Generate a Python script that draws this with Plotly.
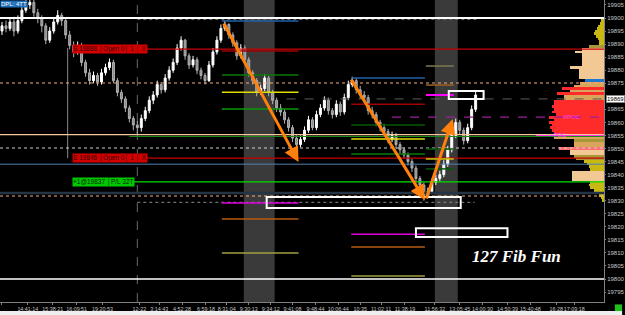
import plotly.graph_objects as go

# ---------------- data ----------------
closes = [
    19897, 19896, 19898.5, 19895, 19899, 19903, 19905, 19906, 19902, 19900,
    19897, 19891.5, 19895, 19898.5, 19901, 19899, 19893.5, 19889.5, 19887, 19889.5,
    19883, 19879, 19876, 19878, 19875.5, 19879, 19881, 19883, 19876, 19871.5,
    19869, 19865.5, 19861.5, 19859, 19858, 19861.5, 19864.5, 19868.5, 19870.5, 19874.5,
    19872.5, 19877, 19880, 19883, 19888.5, 19891.5, 19885.5, 19882, 19884, 19880,
    19878, 19876, 19882, 19887, 19891.5, 19896, 19897.5, 19893.5, 19890.5, 19885.5,
    19888.5, 19884, 19879, 19876, 19871.5, 19873, 19877, 19871.5, 19868.5, 19865.5,
    19864, 19861, 19858, 19854, 19851.5, 19853.5, 19857, 19861, 19858, 19863,
    19865.5, 19868.5, 19864.5, 19863, 19867, 19864, 19869.5, 19874.5, 19876, 19872.5,
    19870.5, 19869.5, 19864.5, 19863, 19860, 19858, 19856.5, 19853.5, 19855, 19851.5,
    19849.5, 19847.5, 19845, 19842.5, 19838.5, 19836, 19832, 19833.5, 19837, 19838.5,
    19840, 19844, 19849.5, 19855, 19860, 19857, 19853, 19858, 19865, 19870.5,
]
highs = [
    19898.5, 19899, 19900, 19900.5, 19901, 19905, 19907, 19908, 19907, 19903.5,
    19901, 19898, 19896.5, 19900, 19903, 19902, 19900, 19895, 19891, 19891,
    19890.5, 19884, 19880.5, 19879.5, 19879, 19880.5, 19882.5, 19884.5, 19884, 19877,
    19872.5, 19870, 19866.5, 19862.5, 19860.5, 19863, 19866, 19870, 19872, 19876,
    19875.5, 19878.5, 19881.5, 19884.5, 19890, 19893, 19892, 19886.5, 19885.5, 19885,
    19881, 19879, 19883.5, 19888.5, 19893, 19897.5, 19899, 19898, 19894.5, 19891.5,
    19890, 19889.5, 19885, 19880, 19877, 19874.5, 19878.5, 19878, 19872.5, 19869.5,
    19867, 19865, 19862, 19859, 19855, 19855, 19858.5, 19862.5, 19862, 19864.5,
    19867, 19870, 19869.5, 19865.5, 19868.5, 19868, 19871, 19876, 19877.5, 19877,
    19874, 19872, 19870.5, 19866, 19864, 19861, 19859.5, 19857.5, 19856.5, 19856,
    19852.5, 19850.5, 19848.5, 19846, 19843.5, 19839.5, 19837, 19835, 19838.5, 19840,
    19841.5, 19845.5, 19851, 19856.5, 19861.5, 19861, 19858, 19859.5, 19866.5, 19872,
]
lows = [
    19893.5, 19894.5, 19895, 19893, 19894, 19898, 19902, 19903.5, 19900.5, 19898,
    19894.5, 19890, 19890.5, 19894, 19897.5, 19897, 19892, 19888, 19885, 19886,
    19881.5, 19877.5, 19874.5, 19875, 19874, 19874.5, 19878, 19880, 19875, 19870,
    19867.5, 19864, 19860, 19857, 19855.5, 19856.5, 19860.5, 19863.5, 19867, 19869.5,
    19871, 19871.5, 19876, 19879, 19882, 19887.5, 19884, 19880.5, 19881, 19878.5,
    19876.5, 19874.5, 19875.5, 19881, 19886, 19890.5, 19895, 19892, 19889, 19884,
    19884.5, 19882.5, 19877.5, 19874.5, 19870, 19870.5, 19872, 19870, 19867, 19864,
    19862.5, 19859.5, 19856.5, 19852.5, 19849.5, 19850.5, 19852.5, 19856, 19857, 19857,
    19862, 19864.5, 19863, 19861.5, 19862, 19862.5, 19863, 19868.5, 19873.5, 19871,
    19869, 19868, 19863, 19861.5, 19858.5, 19856.5, 19855, 19852, 19852.5, 19850,
    19848, 19846, 19843.5, 19841, 19837, 19834.5, 19830, 19831, 19832.5, 19836,
    19837.5, 19839, 19843, 19848.5, 19854, 19855.5, 19851.5, 19852, 19857, 19864,
]
first_open = 19895
opens = [first_open] + closes[:-1]
bar_idx = list(range(len(closes)))

tick_pos = [0, 6.5, 12.75, 18.75, 25.25, 34.5, 39.5, 45.25, 51.25, 56.5, 62, 67.5, 73,
            78.75, 84.5, 90, 95.25, 101.25, 108.75, 115, 120.75, 127, 132.75, 139.25, 143.75]
tick_text = ["08:00", "14:41:14", "15:38:21", "16:09:51", "19:20:53", "12-22", "3:14:43",
             "4:52:28", "6:59:18", "8:31:04", "9:30:13", "9:34:12", "9:41:08", "9:48:44",
             "10:06:44", "10:35", "11:02:11", "11:38:19", "11:56:32", "13:05:45", "14:00:30",
             "14:50:39", "15:40:48", "16:28", "17:09:18"]
price_ticks = [19795, 19800, 19805, 19810, 19815, 19820, 19825, 19830, 19835, 19840, 19845,
               19850, 19855, 19860, 19865, 19875, 19880, 19885, 19890, 19895, 19900, 19905]
last_price = 19869

# volume profile (price level -> volume width, zone)
vp_levels = list(range(19899, 19829, -1))
vp_volume = [3, 4, 6, 7, 9, 10, 8, 6, 5, 5,
             15, 22, 29, 22, 22, 22, 22, 22, 34, 25,
             25, 25, 25, 19, 24, 30, 42, 34, 47, 40,
             40, 50, 50, 52, 50, 52, 48, 55, 50, 55,
             52, 54, 52, 50, 68, 50, 30, 30, 30, 45,
             34, 34, 30, 28, 20, 17, 15, 14, 32, 32,
             32, 32, 14, 15, 14, 10, 7, 5, 3, 2]
vp_zone = list("YYYYYYYYYYOPPPPPPPPPPPPBTTRTRTTRRRRRRRRRRRRRMTOTTKPPOOYYYYPPPPYYYYYYYY")

# fib level sets
fib1_levels = [19898.9, 19887.4, 19878.2, 19871.6, 19865.1, 19829.1, 19823.0, 19810.0]
fib2_levels = [19877.0, 19867.0, 19859.0, 19853.6, 19847.9, 19817.2, 19812.3, 19801.2]
fib3_levels = [19881.6, 19874.3, 19870.5, 19849.8, 19846.0, 19842.2]

# ---------------- styling ----------------
zone_colors = {"Y": "#c8b814", "O": "#a8983a", "P": "#f2c894", "B": "#1e78d0",
               "T": "#d9a55a", "R": "#ff2b2b", "M": "#ff00ff", "K": "#ff7070"}
fib_colors_1 = ["#2060a8", "#a00000", "#0a7a0a", "#e0e000", "#0a9a0a", "#e000e0", "#b85a10", "#a0a040"]
fib_colors_2 = ["#2060a8", "#a00000", "#045a04", "#e0e000", "#0a7a0a", "#e000e0", "#b85a10", "#a0a040"]
fib_colors_3 = ["#807850", "#a06020", "#ff00ff", "#045a04", "#c8c800", "#045a04"]

fig = go.Figure()

fig.add_trace(go.Candlestick(
    x=bar_idx, open=opens, high=highs, low=lows, close=closes,
    increasing=dict(line=dict(color="#ffffff", width=1), fillcolor="#ffffff"),
    decreasing=dict(line=dict(color="#b0b0b0", width=1), fillcolor="#8a8a8a"),
    whiskerwidth=0, hoverinfo="skip",
))

fig.add_trace(go.Bar(
    y=vp_levels, x=vp_volume, orientation="h", xaxis="x2", yaxis="y",
    marker=dict(color=[zone_colors[z] for z in vp_zone], line=dict(width=0)),
    width=1, hoverinfo="skip",
))

shapes = []
for a, b in [(60.75, 68.5), (108.75, 114.5)]:
    shapes.append(dict(type="rect", xref="x", yref="paper", x0=a, x1=b, y0=0, y1=1,
                       fillcolor="#3a3a3a", line=dict(width=0), layer="below"))
shapes.append(dict(type="line", xref="x", yref="paper", x0=34, x1=34, y0=0, y1=1,
                   line=dict(color="#6a6a6a", width=1, dash="dash"), layer="below"))
shapes.append(dict(type="line", xref="x", yref="y", x0=16.5, x1=16.5, y0=19846.3, y1=19888.5,
                   line=dict(color="#8a8a8a", width=1), layer="below"))

def hline(y, x0=-0.5, x1=151.25, color="#fff", width=1, dash="solid"):
    shapes.append(dict(type="line", xref="x", yref="y", x0=x0, x1=x1, y0=y, y1=y,
                       line=dict(color=color, width=width, dash=dash), layer="above"))

hline(19900, color="#ffffff", width=2)
hline(19800, color="#ffffff", width=1.5)
hline(19899.4, 34, 119.5, color="#6a6a6a", width=1, dash="dot")
hline(19888.1, 31, color="#c80000", width=1.2)
hline(19875.1, color="#f0b080", width=1, dash="dot")
hline(19869, 71.5, color="#5a5a5a", width=1, dash="dash")
hline(19862, 98, color="#9a209a", width=1.2, dash="dash")
hline(19855.3, color="#f5c89a", width=1.3)
hline(19854.6, 32, color="#1a8a1a", width=1)
hline(19850.2, color="#d0d0d0", width=1, dash="dot")
hline(19846.3, 31.7, color="#c80000", width=1.2)
hline(19844.0, color="#4f80b0", width=1)
hline(19837.2, 30, color="#00e000", width=1.2)
hline(19833.0, color="#243444", width=2.5)
hline(19831.8, color="#f0b080", width=1, dash="dot")
hline(19829.4, 34, 118.75, color="#8a8a8a", width=1, dash="dot")

for lv, c in zip(fib1_levels, fib_colors_1):
    hline(lv, 55.25, 74.5, color=c, width=1.5)
for lv, c in zip(fib2_levels, fib_colors_2):
    hline(lv, 87.75, 106.25, color=c, width=1.5)
for lv, c in zip(fib3_levels, fib_colors_3):
    hline(lv, 106.5, 113.5, color=c, width=2 if c == "#ff00ff" else 1.5)

for x0, x1, y0, y1 in [(66.5, 115.25, 19827.2, 19831.4), (112.25, 121, 19869.0, 19872.0),
                       (104, 127, 19816.1, 19819.5)]:
    shapes.append(dict(type="rect", xref="x", yref="y", x0=x0, x1=x1, y0=y0, y1=y1,
                       line=dict(color="#ffffff", width=2), fillcolor="rgba(0,0,0,0)", layer="above"))

shapes.append(dict(type="rect", xref="paper", yref="paper", x0=0, x1=1.03, y0=-0.06, y1=-0.03,
                   fillcolor="#eeeeee", line=dict(width=0)))
shapes.append(dict(type="rect", xref="paper", yref="paper", x0=1.018, x1=1.03, y0=-0.03, y1=-0.008,
                   fillcolor="#20c020", line=dict(width=0)))

annotations = []
for (xa, ya), (xb, yb) in [((55.5, 19898.5), (74.5, 19844.8)),
                           ((87.5, 19877.0), (106.25, 19830.3)),
                           ((106.5, 19830.3), (113.25, 19861.3))]:
    annotations.append(dict(x=xb, y=yb, ax=xa, ay=ya, xref="x", yref="y", axref="x", ayref="y",
                            text="", showarrow=True, arrowhead=2, arrowsize=1, arrowwidth=3,
                            arrowcolor="#ff800a"))

lbl_font = dict(size=6.5, family="Liberation Sans")
annotations.append(dict(x=17.5, y=19888.1, xref="x", yref="y", xanchor="left", showarrow=False,
                        text="S 19888 │Open 0│ 1 │ X", font=dict(color="#300000", **lbl_font),
                        bgcolor="#d40000", borderpad=0))
annotations.append(dict(x=17.5, y=19846.3, xref="x", yref="y", xanchor="left", showarrow=False,
                        text="S 19846 │Open 0│ 1 │ X", font=dict(color="#300000", **lbl_font),
                        bgcolor="#d40000", borderpad=0))
annotations.append(dict(x=17.5, y=19837.2, xref="x", yref="y", xanchor="left", showarrow=False,
                        text="+1@19837 │P/L 32T", font=dict(color="#002000", **lbl_font),
                        bgcolor="#00c800", borderpad=0))
annotations.append(dict(x=143.25, y=19862, xref="x", yref="y", showarrow=False, text="VPOC",
                        font=dict(size=6, color="#ff40ff", family="Liberation Sans")))
annotations.append(dict(x=140.25, y=19855.3, xref="x", yref="y", showarrow=False, text="POC",
                        font=dict(size=6, color="#ff40ff", family="Liberation Sans")))
annotations.append(dict(x=129.25, y=19808.8, xref="x", yref="y", showarrow=False,
                        text="<b><i>127 Fib Fun</i></b>",
                        font=dict(size=17, color="#ffffff", family="Liberation Serif")))
annotations.append(dict(x=1.003, y=last_price, xref="paper", yref="y", xanchor="left", showarrow=False,
                        text=str(last_price), font=dict(size=6, color="#000000", family="Liberation Sans"),
                        bgcolor="#ffffff", bordercolor="#888888", borderpad=0))
annotations.append(dict(x=0, y=1, xref="paper", yref="paper", xanchor="left", yanchor="top",
                        showarrow=False, text="DPL: 4TT",
                        font=dict(size=6, color="#ffffff", family="Liberation Sans"),
                        bgcolor="#1e6eb8", borderpad=0))

axis_font = dict(size=6, color="#c8c8c8", family="Liberation Sans")
xfont = dict(size=5.4, color="#c8c8c8", family="Liberation Sans")
fig.update_layout(
    width=625, height=315,
    margin=dict(l=0, r=18, t=0, b=13),
    paper_bgcolor="#000000", plot_bgcolor="#000000",
    showlegend=False,
    shapes=shapes, annotations=annotations,
    xaxis=dict(range=[-0.5, 151.25], tickvals=tick_pos, ticktext=tick_text, tickfont=xfont,
               tickangle=0, showgrid=False, zeroline=False, showline=True, linecolor="#808080",
               ticks="outside", ticklen=2, tickcolor="#808080", rangeslider=dict(visible=False),
               fixedrange=True),
    xaxis2=dict(overlaying="x", anchor="y", range=[607, 0], visible=False, showgrid=False,
                zeroline=False, fixedrange=True),
    yaxis=dict(side="right", range=[19791.2, 19906.9], tickvals=price_ticks, tickformat="d",
               tickfont=axis_font, showgrid=False, zeroline=False, showline=True, linecolor="#808080",
               ticks="outside", ticklen=1, tickcolor="#808080", fixedrange=True),
    bargap=0,
)

fig.write_html("out.html")
